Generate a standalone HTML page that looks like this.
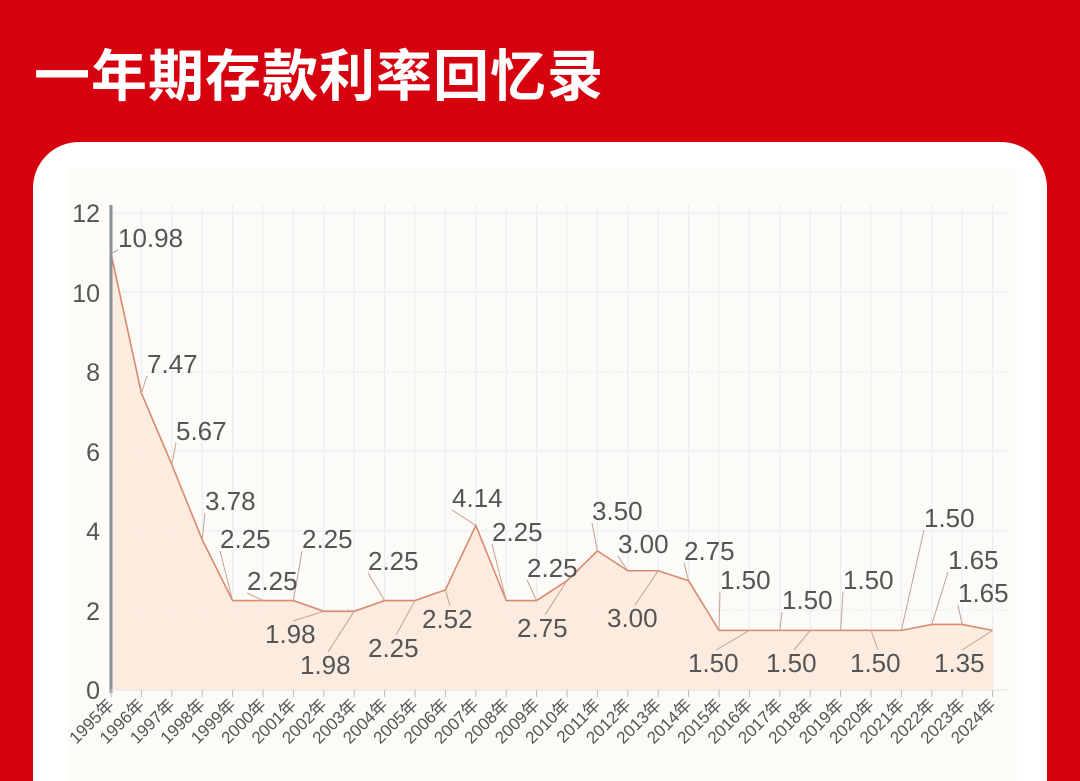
<!DOCTYPE html>
<html style="height:781px;overflow:hidden"><head><meta charset="utf-8"><style>
html,body{margin:0;width:1080px;height:781px;overflow:hidden}
body{background:#d7000f;position:relative;font-family:"Liberation Sans","Noto Sans CJK SC",sans-serif}
.title{position:absolute;left:34px;top:42px;color:#fff;font-size:56px;font-weight:bold;letter-spacing:1px;line-height:70px}
.card{position:absolute;left:33px;top:142px;width:1014px;height:639px;background:#fff;border-radius:46px 46px 0 0}
svg{position:absolute;left:0;top:0}
</style></head><body>
<div class="title">一年期存款利率回忆录</div>
<div class="card"></div>
<svg width="1080" height="781" font-family="Liberation Sans, Noto Sans CJK SC, sans-serif">
<rect x="67" y="168" width="950" height="613" fill="#fcfbf8"/>
<g stroke="#e6eaf2" stroke-width="1">
<line x1="111" y1="213" x2="1008" y2="213"/><line x1="111" y1="292" x2="1008" y2="292"/><line x1="111" y1="372" x2="1008" y2="372" stroke-dasharray="3 2"/><line x1="111" y1="451" x2="1008" y2="451"/><line x1="111" y1="531" x2="1008" y2="531"/><line x1="111" y1="610" x2="1008" y2="610" stroke-dasharray="3 2"/>
</g>
<g id="vg" stroke="#e8ecf4"></g>
<polygon id="area" fill="#fbe9dc" opacity="0.85"/>
<polyline id="ln" fill="none" stroke="#d98a6e" stroke-width="1.6"/>
<line x1="111" y1="205" x2="111" y2="693" stroke="#8a8f9a" stroke-width="3"/>
<line x1="111" y1="690" x2="1008" y2="690" stroke="#e2e2e2"/>
<g id="tk" stroke="#bbb"></g>
<g font-size="25" fill="#555" text-anchor="end">
<text x="100" y="222">12</text><text x="100" y="302">10</text><text x="100" y="381">8</text><text x="100" y="461">6</text><text x="100" y="540">4</text><text x="100" y="620">2</text><text x="100" y="699">0</text>
</g>
<g id="ld" stroke="#c9a08f" stroke-width="1"></g>
<g id="lbl" font-size="26" fill="#555"></g>
<g id="xl" font-size="17" fill="#555"></g>
</svg>
<script>
var v=[10.98,7.47,5.67,3.78,2.25,2.25,2.25,1.98,1.98,2.25,2.25,2.52,4.14,2.25,2.25,2.75,3.5,3.0,3.0,2.75,1.5,1.5,1.5,1.5,1.5,1.5,1.5,1.65,1.65,1.5];
var ns="http://www.w3.org/2000/svg";function X(i){return 111+i*30.4}function Y(t){return 690-t*39.75}
var pts=v.map(function(t,i){return X(i)+","+Y(t)}).join(" ");
document.getElementById("ln").setAttribute("points",pts);
document.getElementById("area").setAttribute("points",pts+" "+X(29)+",690 111,690");
function el(p,n,a,t){var e=document.createElementNS(ns,n);for(var k in a)e.setAttribute(k,a[k]);if(t)e.textContent=t;document.getElementById(p).appendChild(e);}
for(var i=0;i<30;i++){var x=X(i);if(i>0)el("vg","line",{x1:x,y1:205,x2:x,y2:688});el("tk","line",{x1:x,y1:690,x2:x,y2:697});
el("xl","text",{x:x+4,y:706,"text-anchor":"end",transform:"rotate(-45 "+(x+4)+" 706)"},(1995+i)+"年");}
var L=[["10.98",118,247,0],["7.47",147,373,1],["5.67",176,440,2],["3.78",205,510,3],["2.25",220,548,4],["2.25",247,590,5],["2.25",302,548,6],["1.98",265,643,7],["1.98",300,674,8],["2.25",368,570,9],["2.25",368,657,10],["2.52",422,628,11],["4.14",452,507,12],["2.25",492,541,13],["2.25",527,577,14],["2.75",517,637,15],["3.50",592,520,16],["3.00",618,553,17],["3.00",607,627,18],["2.75",684,560,19],["1.50",720,589,20],["1.50",688,672,21],["1.50",782,609,22],["1.50",766,672,23],["1.50",843,589,24],["1.50",850,672,25],["1.50",924,527,26],["1.65",948,569,27],["1.65",958,602,28],["1.35",934,672,29]];
L.forEach(function(l){var px=X(l[3]),py=Y(v[l[3]]);var ly=l[2]<py?l[2]+3:l[2]-22;var lx=l[2]<py?l[1]:l[1]+l[0].length*7;el("ld","line",{x1:px,y1:py,x2:lx,y2:ly});el("lbl","text",{x:l[1],y:l[2]},l[0]);});
</script>
</body></html>
